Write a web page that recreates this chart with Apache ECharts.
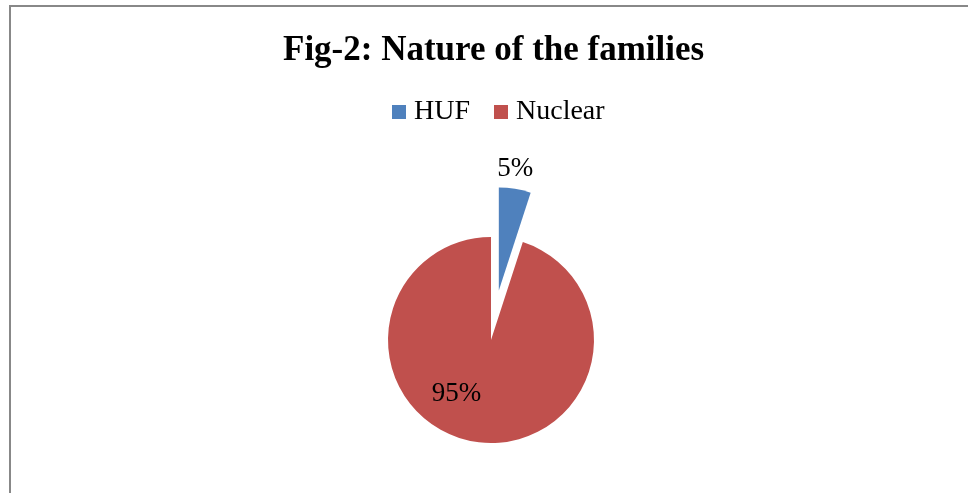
<!DOCTYPE html>
<html>
<head>
<meta charset="utf-8">
<script src="https://cdn.jsdelivr.net/npm/echarts@6/dist/echarts.min.js"></script>
<style>
  html, body { margin: 0; padding: 0; background: #fff; }
  #chart { position: absolute; left: 0; top: 0; width: 968px; height: 493px; }
  #frame { position: absolute; left: 9px; top: 5px; width: 959px; height: 488px;
           border-top: 2px solid #888888; border-left: 2px solid #888888; box-sizing: border-box; pointer-events: none; }
</style>
</head>
<body>
<div id="chart"></div>
<div id="frame"></div>
<script>
const titleText = 'Fig-2: Nature of the families';
const categories = ['HUF', 'Nuclear'];
const values = [5, 95];
const colors = ['#4F81BD', '#C0504D'];

const font = "'Liberation Serif', 'Times New Roman', serif";
const chart = echarts.init(document.getElementById('chart'), null, { renderer: 'canvas' });

chart.setOption({
  animation: false,
  title: {
    text: titleText,
    left: 283,
    top: 33,
    padding: 0,
    textStyle: { fontFamily: font, fontSize: 35, fontWeight: 'bold', color: '#000' }
  },
  legend: {
    data: categories,
    left: 392,
    top: 98,
    padding: 0,
    icon: 'rect',
    itemWidth: 14,
    itemHeight: 14,
    itemGap: 24,
    textStyle: { fontFamily: font, fontSize: 28, color: '#000', padding: [0, 0, 0, 3] }
  },
  series: [{
    type: 'pie',
    center: [491, 340],
    radius: 103,
    startAngle: 90,
    clockwise: true,
    selectedMode: 'single',
    selectedOffset: 50,
    silent: true,
    label: {
      show: true,
      position: 'inside',
      formatter: '{d}%',
      fontFamily: font,
      fontSize: 27,
      color: '#000'
    },
    labelLine: { show: false },
    labelLayout: function (p) {
      return p.dataIndex === 0 ? { dx: 8, dy: -68 } : { dx: -26, dy: 0 };
    },
    emphasis: { disabled: true },
    data: categories.map((c, i) => ({
      name: c,
      value: values[i],
      selected: i === 0,
      itemStyle: { color: colors[i] }
    }))
  }]
});
</script>
</body>
</html>
